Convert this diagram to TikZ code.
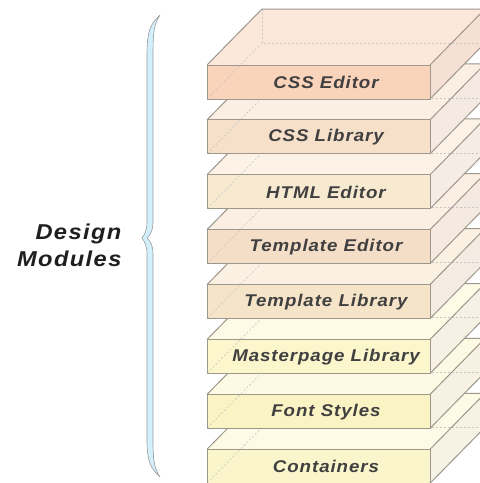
\documentclass[tikz,border=0pt]{standalone}
\usepackage{fontspec}
\setmainfont{Liberation Sans}
\newfontfamily\labfont[LetterSpace=5]{Liberation Sans}
\newfontfamily\bigfont[LetterSpace=6]{Liberation Sans}
\definecolor{edgecol}{HTML}{9E978C}
\newcommand{\wide}[1]{\scalebox{1.1}[1]{#1}}
\begin{document}
\begin{tikzpicture}[x=1pt,y=-1pt,
  edge/.style={draw=edgecol, line width=1pt, line join=round},
  hidden/.style={draw=gray!45, line width=0.6pt, dash pattern=on 2pt off 2pt},
  slabtext/.style={font=\labfont\bfseries\itshape\fontsize{17}{20}\selectfont, text=black!75},
  bigtext/.style={font=\bigfont\bfseries\itshape\fontsize{21.5}{26}\selectfont, text=black!88, anchor=base east},
  bracestyle/.style={draw=gray!80, fill=cyan!18!white, line width=0.6pt, line join=round}
]
\useasboundingbox (0,0) rectangle (480,483);
\begin{scope}
\clip (0,0) rectangle (480,483);
\def\dx{55}\def\dy{56}
\foreach \i/\lab/\fc/\tc/\sc in {
  7/Containers/FAF5CB/FDFAE6/F6F2E4,
  6/Font Styles/FAF3C4/FDF9E2/F6F1E2,
  5/Masterpage Library/FBF6CC/FDFAE6/F6F1E4,
  4/Template Library/F6E4C8/FBF1E2/F4ECE3,
  3/Template Editor/F5DEC8/FBEEE3/F4EAE2,
  2/HTML Editor/F8EAD1/FCF3E6/F5EDE5,
  1/CSS Library/F6E0CA/FBEFE4/F5EAE3,
  0/CSS Editor/FAD3BB/FCE8DA/F6E0D4} {
  \pgfmathsetmacro\yt{65+54.9*\i}
  \pgfmathsetmacro\yb{\yt+34}
  \definecolor{fcol}{HTML}{\fc}
  \definecolor{tcol}{HTML}{\tc}
  \definecolor{scol}{HTML}{\sc}
  \fill[tcol] (207,\yt) -- (207+\dx,\yt-\dy) -- (430+\dx,\yt-\dy) -- (430,\yt) -- cycle;
  \fill[scol] (430,\yt) -- (430+\dx,\yt-\dy) -- (430+\dx,\yb-\dy) -- (430,\yb) -- cycle;
  \fill[fcol] (207,\yt) rectangle (430,\yb);
  \draw[hidden] (207+\dx,\yt-\dy) -- (207+\dx,\yb-\dy) -- (430+\dx,\yb-\dy);
  \draw[hidden] (207+\dx,\yb-\dy) -- (207,\yb);
  \draw[edge] (207,\yt) -- (207+\dx,\yt-\dy) -- (430+\dx,\yt-\dy) -- (430,\yt);
  \draw[edge] (430+\dx,\yt-\dy) -- (430+\dx,\yb-\dy) -- (430,\yb);
  \draw[edge] (207,\yt) rectangle (430,\yb);
  \node[slabtext] (s\i) at (326,\yt+17.5) {\wide{\lab}};
}
\end{scope}
\draw[bracestyle] (160,15) .. controls (150,24) and (147,32) .. (147,55)
  -- (147,222) .. controls (147,230) and (145,234) .. (142,238)
  .. controls (145,242) and (147,246) .. (147,254)
  -- (147,440) .. controls (147,460) and (150,468) .. (160,477)
  .. controls (154,468) and (153,460) .. (153,440)
  -- (153,254) .. controls (153,246) and (151,242) .. (147,238)
  .. controls (151,234) and (153,230) .. (153,222)
  -- (153,55) .. controls (153,32) and (154,24) .. (160,15) -- cycle;
\node[bigtext] (d1) at (125,239) {\wide{Design}};
\node[bigtext] (d2) at (125,266) {\wide{Modules}};
\end{tikzpicture}
\end{document}
